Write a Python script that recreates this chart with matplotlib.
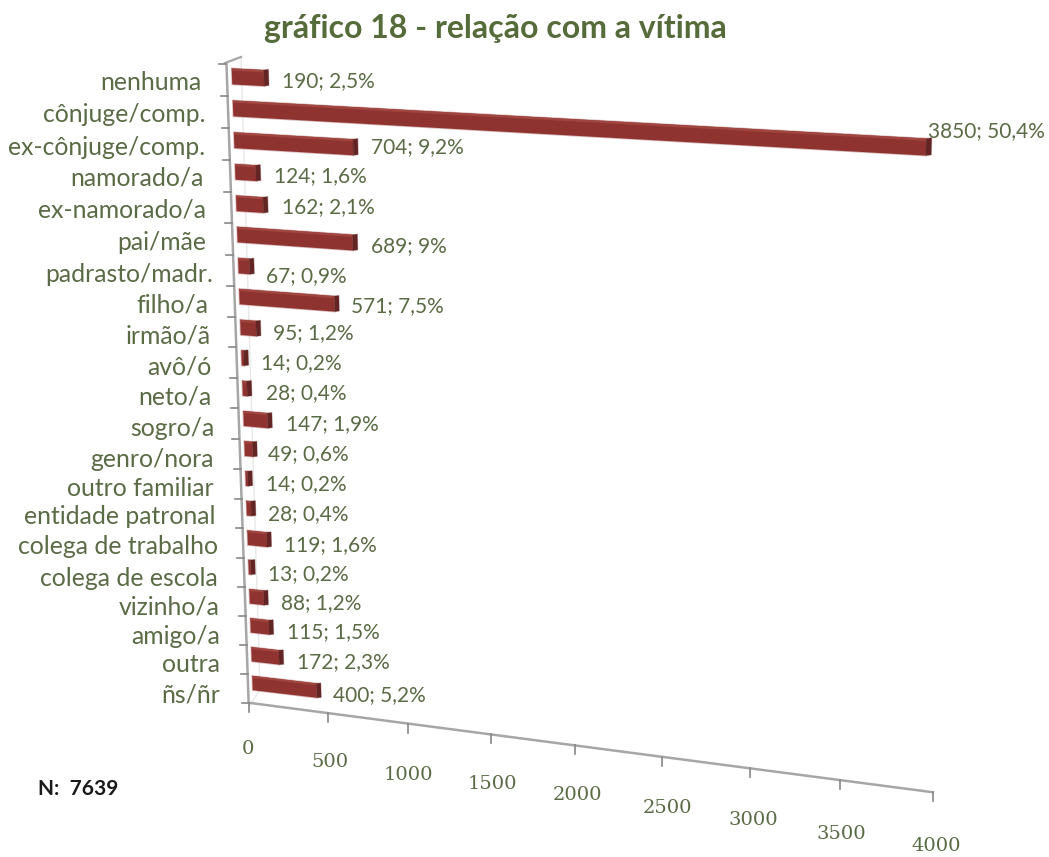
"""Gráfico 18: bar chart with a tilted 3D look, drawn through a perspective transform."""

import numpy as np
import matplotlib
matplotlib.use("Agg")
import matplotlib.pyplot as plt
from matplotlib.patches import Polygon
from matplotlib.transforms import Transform

categories = ["nenhuma", "cônjuge/comp.", "ex-cônjuge/comp.", "namorado/a", "ex-namorado/a",
              "pai/mãe", "padrasto/madr.", "filho/a", "irmão/ã", "avô/ó", "neto/a", "sogro/a",
              "genro/nora", "outro familiar", "entidade patronal", "colega de trabalho",
              "colega de escola", "vizinho/a", "amigo/a", "outra", "ñs/ñr"]
values = [190, 3850, 704, 124, 162, 689, 67, 571, 95, 14, 28, 147, 49, 14, 28, 119, 13, 88, 115, 172, 400]
percents = ["2,5%", "50,4%", "9,2%", "1,6%", "2,1%", "9%", "0,9%", "7,5%", "1,2%", "0,2%", "0,4%",
            "1,9%", "0,6%", "0,2%", "0,4%", "1,6%", "0,2%", "1,2%", "1,5%", "2,3%", "5,2%"]
x_ticks = [0, 500, 1000, 1500, 2000, 2500, 3000, 3500, 4000]

# text placement in pixels, from the reference
cat_right = [202, 205, 205, 204, 206, 206, 213, 208, 211, 212, 212, 214, 214, 214, 216, 218, 218, 220, 220, 220, 220]
cat_y = [82, 114, 147, 178, 210, 242, 275, 305, 336, 367, 397, 428, 459, 488, 517, 547, 578, 607, 636, 665, 695]
lab_x = [282, 928, 371, 274, 282, 371, 266, 351, 273, 261, 266, 286, 268, 266, 268, 284, 268, 281, 287, 297, 333]
lab_y = [81, 131, 147, 176, 207, 246, 276, 306, 333, 363, 393, 424, 454, 484, 514, 545, 574, 603, 632, 662, 695]
tick_dx = [-1, 2, 0, 1, 2, 6, 3, 1, 3]
tick_dy = [46, 49, 51, 50, 50, 51, 52, 54, 54]

TEXT = "#5a6b45"
FONT = "Lato"


def fit_homography(src, dst):
    # least squares fit of a plane perspective, (value, row) -> pixel
    src = np.asarray(src, float) / [4000, 21]
    dst = np.asarray(dst, float) / 1000
    rows = []
    for (a, b), (u, v) in zip(src, dst):
        rows.append([a, b, 1, 0, 0, 0, -u * a, -u * b, -u])
        rows.append([0, 0, 0, a, b, 1, -v * a, -v * b, -v])
    h = np.linalg.svd(np.array(rows))[2][-1].reshape(3, 3)
    return np.diag([1000, 1000, 1]) @ h @ np.diag([1 / 4000, 1 / 21, 1])


class Perspective(Transform):
    input_dims = 2
    output_dims = 2
    is_separable = False
    has_inverse = False

    def __init__(self, h):
        super().__init__()
        self.h = h

    def transform_non_affine(self, xy):
        xy = np.asarray(xy, float)
        p = np.column_stack([xy, np.ones(len(xy))]) @ self.h.T
        return p[:, :2] / p[:, 2:]


bar_plane = Perspective(fit_homography(
    [(0, .5), (0, 1.5), (0, 10.5), (0, 20.5), (3850, 1.5), (704, 2.5), (689, 5.5),
     (571, 7.5), (400, 20.5), (190, .5), (172, 19.5)],
    [(231, 77), (232, 108), (243, 388), (252, 683), (926, 147), (353, 147), (353, 243),
     (334, 304), (316, 691), (266, 78), (280, 657)]))
frame_plane = Perspective(fit_homography(
    [(0, 0), (0, 1), (0, 2), (0, 3), (0, 4), (0, 5), (0, 19), (0, 20), (0, 21),
     (500, 21), (1000, 21), (1500, 21), (3000, 21), (3500, 21), (4000, 21), (4000, 0)],
    [(227, 64), (228, 97), (228.5, 128), (229.5, 160), (230.5, 192), (231.5, 222), (246.5, 644),
     (247, 673), (248, 703), (328, 714), (410, 724), (492, 735), (750, 769), (840, 780),
     (932, 792), (958, 95)]))

fig = plt.figure(figsize=(10.49, 8.57), dpi=100)
ax = fig.add_axes([0, 0, 1, 1])
ax.set_xlim(0, 1049)
ax.set_ylim(857, 0)
ax.axis("off")

bar_tr = bar_plane + ax.transData
frame_tr = frame_plane + ax.transData

# faint back wall
ax.plot([241, 260, 250], [57, 690, 705], color="#e8e8e8", lw=1)
ax.plot([225, 241], [63, 57], color="#a6a6a6", lw=1.6)

# axes
ax.plot([0, 0, 4000], [0, 21, 21], color="#a6a6a6", lw=1.8, transform=frame_tr, solid_joinstyle="miter")
for r in range(22):
    px = frame_plane.transform([(0, r)])[0]
    ax.plot([px[0] - 7, px[0]], [px[1], px[1]], color="#868686", lw=1.2)
for i, t in enumerate(x_ticks):
    px = frame_plane.transform([(t, 21)])[0]
    ax.plot([px[0], px[0]], [px[1], px[1] + 9], color="#868686", lw=1.2)
    ax.text(px[0] + tick_dx[i], px[1] + tick_dy[i], str(t), ha="center", va="center",
            fontsize=14, color=TEXT, family="DejaVu Serif")

# bars, above the wall line
half = 0.25
for i, v in enumerate(values):
    r = i + 0.5
    top = [(0, r - half), (v, r - half), (v, r - half + 0.07), (0, r - half + 0.07)]
    face = [(0, r - half), (v, r - half), (v, r + half), (0, r + half)]
    end = [(v, r - half), (v + 28, r - half - 0.03), (v + 28, r + half - 0.03), (v, r + half)]
    ax.add_patch(Polygon(face, closed=True, fc="#8f3331", ec="#8f333155", lw=1.2, transform=bar_tr, zorder=3))
    ax.add_patch(Polygon(top, closed=True, fc="#a0453f", ec="none", transform=bar_tr, zorder=3))
    ax.add_patch(Polygon(end, closed=True, fc="#632523", ec="#63252355", lw=0.8, transform=bar_tr, zorder=3))

# category and value labels
for i, c in enumerate(categories):
    ax.text(cat_right[i], cat_y[i], c, ha="right", va="center", fontsize=17.8, color=TEXT, family=FONT)
    ax.text(lab_x[i], lab_y[i], f"{values[i]}; {percents[i]}", ha="left", va="center",
            fontsize=15, color=TEXT, family=FONT)

ax.text(495, 28, "gráfico 18 - relação com a vítima", ha="center", va="center", fontsize=23,
        fontweight="bold", color="#566b3a", family=FONT)
ax.text(38, 789, "N:  7639", ha="left", va="center", fontsize=15, fontweight="bold",
        color="#1a1a1a", family=FONT)

fig.savefig("out.png", dpi=100)
plt.close(fig)
